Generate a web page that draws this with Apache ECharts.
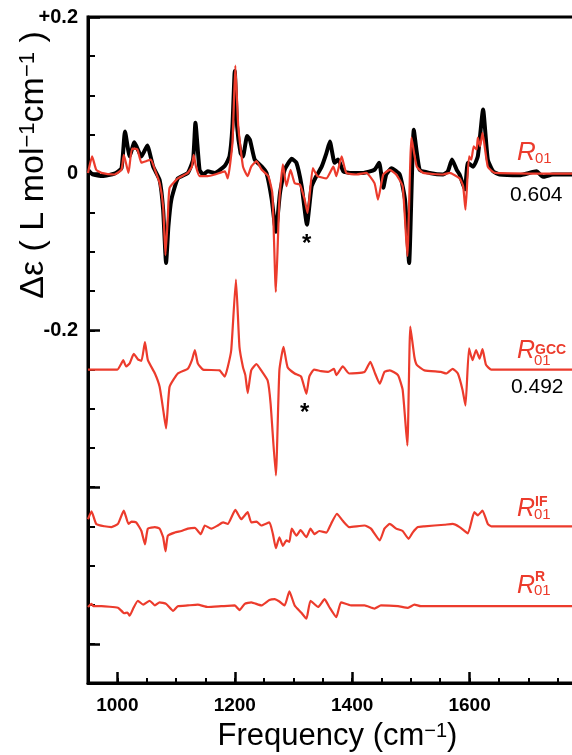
<!DOCTYPE html>
<html>
<head>
<meta charset="utf-8">
<script src="https://cdn.jsdelivr.net/npm/echarts@6/dist/echarts.min.js"></script>
<style>
  html, body { margin: 0; padding: 0; background: #fff; }
  #chart { width: 572px; height: 755px; }
</style>
</head>
<body>
<div id="chart"></div>
<script>
// spectra: [frequency cm-1, delta epsilon]
// experimental VCD (black)
const expPoints = [[950,0.005],[958,-0.001],[975,-0.003],[995,0.000],[1007,0.007],[1013,0.054],[1021,0.022],[1029,0.040],[1041,0.022],[1051,0.036],[1061,0.009],[1072,-0.008],[1078,-0.046],[1083,-0.114],[1087,-0.067],[1092,-0.033],[1103,-0.006],[1120,0.001],[1129,0.018],[1133,0.065],[1140,0.005],[1146,-0.001],[1154,0.003],[1166,0.001],[1183,0.010],[1191,0.022],[1196,0.060],[1200,0.131],[1204,0.060],[1210,0.026],[1214,0.022],[1221,0.048],[1226,0.043],[1234,0.018],[1246,0.009],[1254,0.001],[1263,-0.033],[1270,-0.074],[1277,-0.025],[1285,0.005],[1297,0.019],[1305,0.014],[1314,-0.016],[1323,-0.065],[1331,-0.016],[1339,-0.003],[1348,0.009],[1356,0.026],[1362,0.041],[1370,0.014],[1376,0.018],[1385,0.003],[1396,0.001],[1419,0.001],[1438,0.005],[1446,0.014],[1453,-0.018],[1458,-0.001],[1467,0.007],[1481,-0.001],[1490,-0.033],[1497,-0.114],[1505,0.056],[1515,0.005],[1532,0.001],[1555,-0.001],[1563,0.003],[1570,0.018],[1578,0.005],[1583,-0.001],[1592,-0.020],[1597,0.014],[1606,0.009],[1614,0.022],[1623,0.082],[1631,0.018],[1640,0.003],[1651,-0.001],[1685,-0.002],[1714,0.003],[1725,-0.004],[1742,-0.001],[1800,-0.001]];

// R01 computed
const r01Points = [[950,0.001],[957,0.022],[964,0.005],[973,0.001],[995,-0.001],[1007,0.005],[1011,0.024],[1019,0.001],[1025,0.032],[1034,0.031],[1041,0.014],[1049,0.016],[1057,0.018],[1064,0.005],[1072,-0.012],[1078,-0.042],[1082,-0.104],[1086,-0.055],[1089,-0.018],[1103,-0.006],[1120,0.001],[1127,0.009],[1130,0.024],[1134,0.009],[1140,-0.003],[1154,-0.003],[1166,-0.001],[1183,0.003],[1188,-0.006],[1196,0.039],[1201,0.138],[1206,0.060],[1214,0.009],[1222,-0.003],[1228,0.009],[1237,0.016],[1246,0.005],[1257,-0.003],[1264,-0.025],[1270,-0.151],[1276,-0.033],[1282,0.012],[1288,-0.016],[1295,0.005],[1302,-0.012],[1311,-0.014],[1319,-0.033],[1324,-0.050],[1333,0.007],[1341,-0.003],[1356,-0.006],[1368,0.009],[1373,-0.003],[1382,0.022],[1390,0.001],[1407,-0.001],[1424,0.001],[1438,-0.012],[1444,-0.033],[1453,-0.001],[1464,0.005],[1475,-0.001],[1486,-0.016],[1494,-0.105],[1501,0.046],[1510,0.009],[1521,0.001],[1555,-0.001],[1566,0.001],[1583,-0.006],[1589,-0.016],[1593,-0.046],[1599,0.022],[1603,0.018],[1607,0.035],[1612,0.031],[1614,0.046],[1618,0.035],[1622,0.052],[1631,0.009],[1643,0.001],[1800,0]];

// R01 GCC part (relative to its baseline)
const gccPoints = [[950,0],[1000,0],[1007,0.008],[1010,0.012],[1015,0.004],[1021,0.008],[1028,0.020],[1035,0.013],[1041,0.011],[1047,0.035],[1052,0.012],[1064,-0.005],[1072,-0.022],[1079,-0.056],[1083,-0.075],[1089,-0.022],[1103,-0.005],[1120,0.001],[1127,0.012],[1132,0.025],[1137,0.008],[1146,0],[1174,-0.001],[1183,-0.009],[1188,0.003],[1194,0.025],[1202,0.115],[1208,0.029],[1214,0.003],[1218,-0.007],[1222,-0.030],[1228,-0.001],[1237,0.007],[1245,-0.001],[1256,-0.014],[1261,-0.043],[1270,-0.135],[1276,-0.001],[1283,0.029],[1290,0.003],[1302,-0.005],[1313,-0.009],[1322,-0.031],[1327,-0.009],[1335,0],[1347,-0.002],[1359,-0.003],[1369,0.001],[1373,-0.007],[1384,0.004],[1395,-0.005],[1421,-0.003],[1431,0.010],[1438,-0.003],[1447,-0.018],[1455,-0.003],[1464,-0.001],[1478,-0.007],[1486,-0.026],[1494,-0.097],[1499,0.055],[1506,0.016],[1510,0.006],[1523,-0.001],[1551,-0.003],[1560,-0.005],[1571,0.001],[1580,-0.005],[1588,-0.026],[1593,-0.046],[1599,0.027],[1605,0.012],[1611,0.025],[1617,0.014],[1622,0.026],[1628,0.006],[1637,0],[1800,0]];

// R01 IF part
const ifPoints = [[950,0.009],[956,0.019],[964,0.003],[978,0],[990,-0.001],[1001,0.003],[1011,0.020],[1019,0.003],[1024,0.006],[1032,0.005],[1041,-0.006],[1047,-0.023],[1052,-0.003],[1064,-0.001],[1072,-0.003],[1078,-0.014],[1082,-0.032],[1086,-0.012],[1098,-0.008],[1109,-0.006],[1120,-0.003],[1132,-0.002],[1142,-0.010],[1149,0.001],[1160,-0.003],[1171,0.001],[1180,0.005],[1188,0.003],[1201,0.021],[1211,0.009],[1222,0.018],[1228,0.005],[1237,0.006],[1245,0.001],[1259,0.005],[1265,-0.010],[1270,-0.028],[1276,-0.014],[1282,-0.025],[1288,-0.018],[1293,-0.020],[1297,-0.003],[1305,-0.012],[1312,-0.005],[1322,-0.014],[1329,-0.003],[1336,-0.010],[1344,-0.006],[1356,-0.008],[1364,0.003],[1374,0.016],[1384,0.007],[1395,-0.001],[1421,0.001],[1432,-0.003],[1447,-0.018],[1455,-0.003],[1464,0.003],[1475,-0.003],[1486,-0.006],[1496,-0.016],[1503,-0.008],[1512,-0.001],[1523,0],[1557,0.002],[1571,0.003],[1583,-0.001],[1597,-0.009],[1608,0.018],[1614,0.014],[1622,0.020],[1631,0.003],[1637,0],[1800,0]];

// R01 R part
const rPoints = [[950,-0.001],[956,0.003],[959,0],[973,0],[1001,-0.002],[1012,-0.009],[1017,-0.008],[1021,-0.012],[1027,-0.003],[1035,0.007],[1044,0.002],[1055,0.007],[1064,0.001],[1072,0.005],[1083,0.003],[1095,-0.006],[1103,0],[1120,0.001],[1137,0.002],[1154,-0.001],[1177,0],[1200,0.001],[1208,-0.005],[1217,0.003],[1228,0.005],[1245,0.001],[1259,0.008],[1268,0.009],[1276,0.006],[1285,0.001],[1293,0.019],[1302,0.001],[1313,-0.008],[1322,-0.016],[1329,0.007],[1342,-0.001],[1353,0.009],[1361,-0.001],[1373,-0.014],[1381,0.005],[1398,0.001],[1421,0.001],[1438,-0.003],[1449,0.001],[1478,0],[1495,-0.002],[1506,0.002],[1517,0],[1800,0]];

// vertical offsets of the stacked traces
const offsets = { gcc: -0.25, if: -0.45, r: -0.552 };

const xMajor = [1000, 1200, 1400, 1600];
const yMajor = [-0.6, -0.4, -0.2, 0, 0.2];

const RED = '#ec3b2c';
const FONT = 'Liberation Sans';

function shift(points, dy) {
    return points.map(function (p) { return [p[0], p[1] + dy]; });
}

function lineSeries(name, data, color, width, z) {
    return {
        name: name,
        type: 'line',
        data: data,
        showSymbol: false,
        smooth: 0.15,
        z: z,
        lineStyle: { color: color, width: width, join: 'round' },
        animation: false
    };
}

function txt(x, y, text, font, color) {
    return {
        type: 'text', x: x, y: y, z: 100,
        style: { text: text, font: font, fill: color || '#000', align: 'left', verticalAlign: 'top' }
    };
}

let myChart = echarts.init(document.getElementById('chart'));

let option = {
    backgroundColor: '#fff',
    animation: false,
    grid: {
        left: 88, top: 17, width: 499, height: 666,
        outerBoundsMode: 'none', containLabel: false,
        show: true, borderColor: '#000', borderWidth: 3
    },
    xAxis: [
        {
            type: 'value', min: 950, max: 1800, interval: 50,
            axisLine: { onZero: false, lineStyle: { color: '#000', width: 3 } },
            axisTick: { inside: true, length: 5, lineStyle: { color: '#000', width: 2 } },
            axisLabel: {
                margin: 13, color: '#000', fontFamily: FONT, fontWeight: 'bold', fontSize: 19,
                formatter: function (v) { return xMajor.indexOf(v) >= 0 ? String(v) : ''; }
            },
            splitLine: { show: false },
            name: '{a|Frequency (cm}{s|−1}{a|)}',
            nameLocation: 'middle',
            nameGap: 38,
            nameTextStyle: {
                rich: {
                    a: { fontFamily: FONT, fontSize: 31, color: '#000' },
                    s: { fontFamily: FONT, fontSize: 20, color: '#000', verticalAlign: 'top' }
                }
            }
        },
        {
            type: 'value', min: 950, max: 1800, position: 'bottom',
            axisLine: { show: false, onZero: false },
            axisTick: { inside: true, length: 11, customValues: xMajor, lineStyle: { color: '#000', width: 2.5 } },
            axisLabel: { show: false },
            splitLine: { show: false }
        }
    ],
    yAxis: [
        {
            type: 'value', min: -0.65, max: 0.2, interval: 0.05,
            axisLine: { onZero: false, lineStyle: { color: '#000', width: 3 } },
            axisTick: { inside: true, length: 7, lineStyle: { color: '#000', width: 2 } },
            axisLabel: {
                margin: 10, color: '#000', fontFamily: FONT, fontWeight: 'bold', fontSize: 20,
                formatter: function (v) {
                    if (Math.abs(v - 0.2) < 1e-6) return '+0.2';
                    if (Math.abs(v) < 1e-6) return '0';
                    if (Math.abs(v + 0.2) < 1e-6) return '-0.2';
                    return '';
                }
            },
            splitLine: { show: false }
        },
        {
            type: 'value', min: -0.65, max: 0.2, position: 'left',
            axisLine: { show: false, onZero: false },
            axisTick: { inside: true, length: 12, customValues: yMajor, lineStyle: { color: '#000', width: 2.5 } },
            axisLabel: { show: false },
            splitLine: { show: false }
        }
    ],
    series: [
        lineSeries('exp', expPoints, '#000', 4, 2),
        lineSeries('R01', r01Points, RED, 2.2, 3),
        lineSeries('R01 GCC', shift(gccPoints, offsets.gcc), RED, 2.2, 3),
        lineSeries('R01 IF', shift(ifPoints, offsets.if), RED, 2.2, 3),
        lineSeries('R01 R', shift(rPoints, offsets.r), RED, 2.2, 3)
    ],
    graphic: [
        // y axis title, sits high on the axis as in the figure
        {
            type: 'text', x: 34, y: 165, rotation: Math.PI / 2, z: 100,
            style: {
                text: '{a|Δε ( L mol}{s|−1}{a|cm}{s|−1}{a| )}',
                align: 'center', verticalAlign: 'middle',
                rich: {
                    a: { fontFamily: FONT, fontSize: 34, fill: '#000' },
                    s: { fontFamily: FONT, fontSize: 22, fill: '#000', verticalAlign: 'top' }
                }
            }
        },
        // R01
        txt(517, 140, 'R', 'italic 26px "Liberation Sans"', RED),
        txt(535, 151, '01', '15px "Liberation Sans"', RED),
        txt(510, 185, '0.604', '21px "Liberation Sans"'),
        // R01 GCC
        txt(517, 339, 'R', 'italic 25px "Liberation Sans"', RED),
        txt(535, 343, 'GCC', 'bold 14px "Liberation Sans"', RED),
        txt(534, 353, '01', '15px "Liberation Sans"', RED),
        txt(511, 377, '0.492', '21px "Liberation Sans"'),
        // R01 IF
        txt(517, 497, 'R', 'italic 25px "Liberation Sans"', RED),
        txt(535, 495, 'IF', 'bold 14px "Liberation Sans"', RED),
        txt(534, 507, '01', '15px "Liberation Sans"', RED),
        // R01 R
        txt(517, 574, 'R', 'italic 25px "Liberation Sans"', RED),
        txt(535, 570, 'R', 'bold 14px "Liberation Sans"', RED),
        txt(534, 583, '01', '15px "Liberation Sans"', RED),
        // asterisks
        txt(302, 232, '*', 'bold 24px "Liberation Sans"'),
        txt(300, 401, '*', 'bold 24px "Liberation Sans"')
    ]
};

myChart.setOption(option);
</script>
</body>
</html>
